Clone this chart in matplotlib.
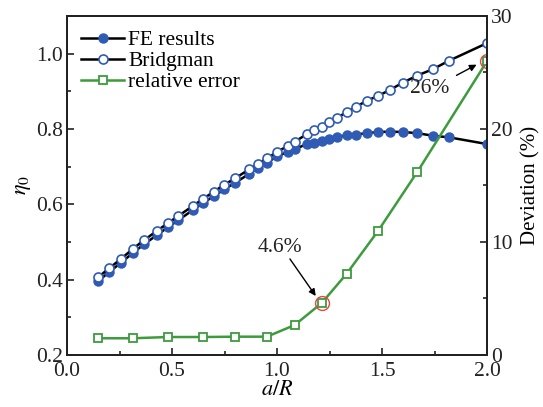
import matplotlib
matplotlib.use('Agg')
import matplotlib.pyplot as plt
from matplotlib.lines import Line2D
from matplotlib.ticker import MultipleLocator

plt.rcParams['font.family'] = ['Liberation Serif', 'DejaVu Serif']
plt.rcParams['mathtext.fontset'] = 'stix'

# a/R positions shared by FE and Bridgman curves
a_R = [0.148, 0.200, 0.257, 0.314, 0.367, 0.427, 0.480, 0.530, 0.600, 0.649,
       0.700, 0.749, 0.800, 0.868, 0.911, 0.952, 1.000, 1.054, 1.084, 1.141,
       1.176, 1.213, 1.249, 1.284, 1.332, 1.374, 1.427, 1.482, 1.538, 1.599,
       1.668, 1.743, 1.818, 2.000]

fe_results = [0.396, 0.420, 0.445, 0.471, 0.494, 0.518, 0.539, 0.558, 0.585, 0.604,
              0.622, 0.640, 0.657, 0.681, 0.697, 0.711, 0.727, 0.740, 0.746, 0.760,
              0.764, 0.769, 0.774, 0.779, 0.783, 0.785, 0.789, 0.792, 0.793, 0.792,
              0.789, 0.782, 0.778, 0.760]

bridgman = [0.406, 0.430, 0.455, 0.482, 0.505, 0.529, 0.550, 0.569, 0.596, 0.615,
            0.634, 0.652, 0.669, 0.693, 0.708, 0.722, 0.739, 0.756, 0.766, 0.786,
            0.796, 0.806, 0.818, 0.829, 0.845, 0.858, 0.875, 0.888, 0.904, 0.923,
            0.942, 0.959, 0.981, 1.028]

# relative error (%)
err_x = [0.148, 0.314, 0.480, 0.649, 0.800, 0.952, 1.084, 1.213, 1.332, 1.482, 1.668, 2.000]
err_y = [1.48, 1.48, 1.59, 1.59, 1.62, 1.62, 2.65, 4.6, 7.2, 11.0, 16.2, 26.0]

blue = '#2f5bb5'
green = '#3d9b3d'
red = '#e84545'
ink = '#222222'

fig = plt.figure(figsize=(5.43, 4.07), dpi=100)
ax = fig.add_axes([0.1234, 0.1278, 0.7735, 0.8329])
ax2 = ax.twinx()

ax.plot(a_R, fe_results, '-', color='black', lw=1.8, marker='o', ms=6.5,
        mfc=blue, mec=blue, zorder=2)
ax.plot(a_R, bridgman, '-', color='black', lw=1.8, marker='o', ms=6.5,
        mfc='white', mec=blue, mew=1.2, zorder=3)

ax2.plot(err_x, err_y, '-', color=green, lw=1.8, marker='s', ms=5.5,
         mfc='white', mec=green, mew=1.3)
# highlighted points
ax2.plot([1.213, 2.0], [4.6, 26.0], 'o', ms=10, mfc='none', mec=red, mew=1.0)

ax2.annotate('', xy=(1.192, 5.02), xytext=(1.054, 8.70),
             arrowprops=dict(arrowstyle='-|>', color='black', lw=1.0, mutation_scale=10))
ax2.text(1.014, 9.47, '4.6%', ha='center', va='center', fontsize=15.5, color=ink)
ax2.annotate('', xy=(1.962, 25.81), xytext=(1.843, 24.63),
             arrowprops=dict(arrowstyle='-|>', color='black', lw=1.0, mutation_scale=10))
ax2.text(1.726, 23.54, '26%', ha='center', va='center', fontsize=15.5, color=ink)

ax.set_xlim(0, 2.0)
ax.set_ylim(0.2, 1.1)
ax2.set_ylim(0, 30)

ax.xaxis.set_major_locator(MultipleLocator(0.5))
ax.xaxis.set_minor_locator(MultipleLocator(0.25))
ax.yaxis.set_major_locator(MultipleLocator(0.2))
ax.yaxis.set_minor_locator(MultipleLocator(0.1))
ax2.yaxis.set_major_locator(MultipleLocator(10))
ax2.yaxis.set_minor_locator(MultipleLocator(5))

for a in (ax, ax2):
    a.tick_params(which='both', direction='in', labelsize=15.5, colors=ink, width=1.2)
    a.tick_params(which='major', length=5)
    a.tick_params(which='minor', length=3)
    for s in a.spines.values():
        s.set_linewidth(1.4)
        s.set_color(ink)
ax.tick_params(axis='x', top=False, pad=5)
ax.tick_params(axis='y', right=False, pad=3)
ax2.tick_params(axis='y', pad=3)

ax.set_xlabel('$a/R$', fontsize=16, labelpad=0)
ax.set_ylabel(r'$\eta_0$', fontsize=16, labelpad=2)
ax2.set_ylabel('Deviation (%)', fontsize=15, labelpad=6)

handles = [
    Line2D([], [], color='black', lw=1.8, marker='o', ms=6.5, mfc=blue, mec=blue),
    Line2D([], [], color='black', lw=1.8, marker='o', ms=6.5, mfc='white', mec=blue, mew=1.2),
    Line2D([], [], color=green, lw=1.8, marker='s', ms=5.5, mfc='white', mec=green, mew=1.3),
]
ax2.legend(handles, ['FE results', 'Bridgman', 'relative error'], loc='upper left',
           frameon=False, fontsize=15.5, handlelength=2.0, handletextpad=0.2,
           labelspacing=0.05, borderaxespad=0.25)

# bottom labels of both y axes sit a little higher than the x labels
fig.canvas.draw()
ax.get_yticklabels()[0].set_va('bottom')
ax2.get_yticklabels()[0].set_va('bottom')

fig.savefig('out.png', dpi=100)
